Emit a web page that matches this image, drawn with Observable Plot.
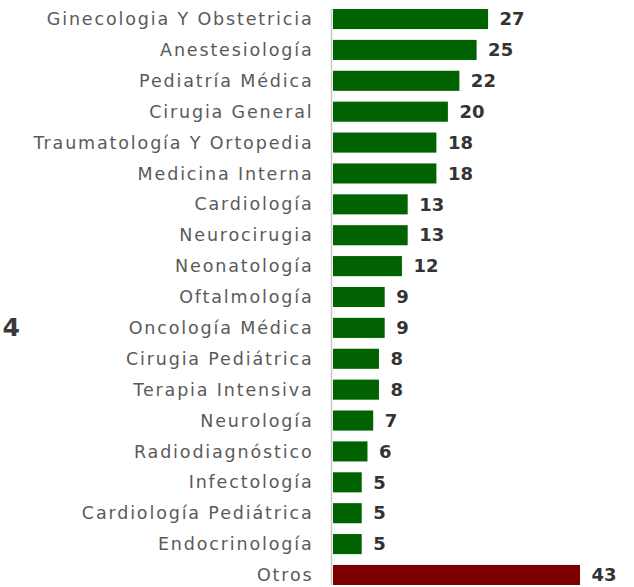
<!DOCTYPE html>
<html><head><meta charset="utf-8">
<script src="https://cdn.jsdelivr.net/npm/d3@7"></script>
<script src="https://cdn.jsdelivr.net/npm/@observablehq/plot@0.6"></script>
<style>
html,body{margin:0;padding:0;background:#fff;overflow:hidden;}
</style>
</head><body>
<div id="chart"></div>
<script>
const categories = ["Ginecologia Y Obstetricia","Anestesiología","Pediatría Médica","Cirugia General","Traumatología Y Ortopedia","Medicina Interna","Cardiología","Neurocirugia","Neonatología","Oftalmología","Oncología Médica","Cirugia Pediátrica","Terapia Intensiva","Neurología","Radiodiagnóstico","Infectología","Cardiología Pediátrica","Endocrinología","Otros"];
const values = [27,25,22,20,18,18,13,13,12,9,9,8,8,7,6,5,5,5,43];
const sideLabel = "4";
const sideLabelRow = "Oncología Médica";

const data = categories.map((c,i)=>({cat:c, value:values[i], otros: c==="Otros"}));

const chart = Plot.plot({
  width: 634,
  height: 587,
  marginLeft: 333,
  marginRight: 54,
  marginTop: 9,
  marginBottom: 2,
  style: {fontFamily: "'DejaVu Sans', sans-serif", background: "#fff"},
  x: {domain: [0, 43], axis: null},
  y: {domain: categories, paddingInner: 0.35, paddingOuter: 0, round: false, label: null},
  marks: [
    Plot.axisY({tickSize: 0, tickPadding: 20, fontSize: 17.5, fill: "#5a5a5a", label: null}),
    Plot.barX(data, {y: "cat", x: "value", fill: d => d.otros ? "#7d0000" : "#006200"}),
    Plot.ruleX([0], {stroke: "#c8c8c8", strokeWidth: 1.5, dx: -2}),
    Plot.text(data, {y: "cat", x: "value", text: d => String(d.value), textAnchor: "start", dx: 11, fontSize: 18, fontWeight: "bold", fill: "#333"}),
    Plot.text([sideLabel], {y: () => sideLabelRow, frameAnchor: "left", dx: -331, textAnchor: "start", fontSize: 25, fontWeight: "bold", fill: "#3a3a3a"})
  ]
});
chart.querySelectorAll('g[aria-label="y-axis tick label"] text').forEach(t => t.style.letterSpacing = "1.85px");
document.getElementById("chart").append(chart);
</script>
</body></html>
